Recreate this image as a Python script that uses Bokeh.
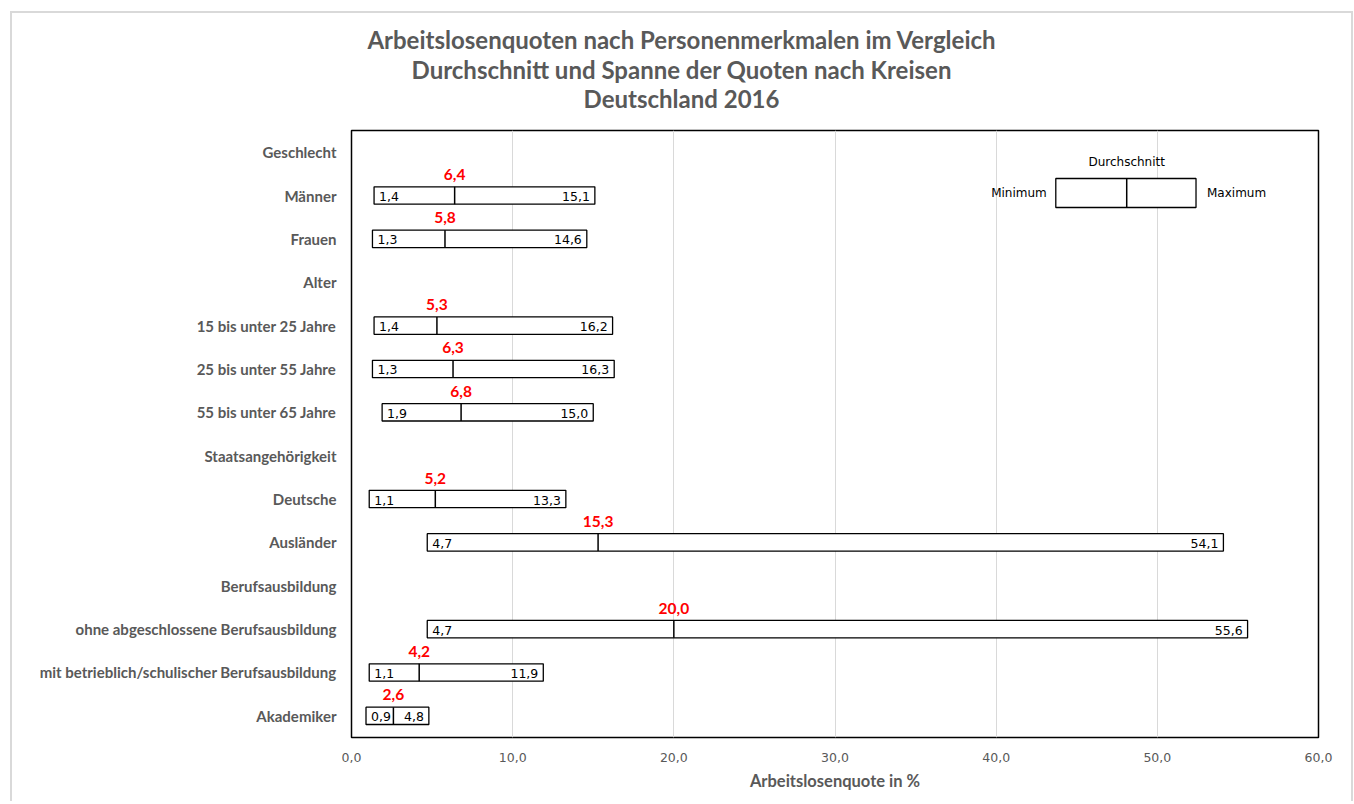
from bokeh.plotting import figure
from bokeh.models import Range1d, FixedTicker, ColumnDataSource, Div
from bokeh.layouts import column
from bokeh.core.properties import value
from bokeh.embed import file_html
from bokeh.resources import INLINE

# ---------------- data ----------------
categories = [
    "Geschlecht", "Männer", "Frauen",
    "Alter", "15 bis unter 25 Jahre", "25 bis unter 55 Jahre", "55 bis unter 65 Jahre",
    "Staatsangehörigkeit", "Deutsche", "Ausländer",
    "Berufsausbildung", "ohne abgeschlossene Berufsausbildung",
    "mit betrieblich/schulischer Berufsausbildung", "Akademiker",
]
minimum = [None, 1.4, 1.3, None, 1.4, 1.3, 1.9, None, 1.1, 4.7, None, 4.7, 1.1, 0.9]
mean = [None, 6.4, 5.8, None, 5.3, 6.3, 6.8, None, 5.2, 15.3, None, 20.0, 4.2, 2.6]
maximum = [None, 15.1, 14.6, None, 16.2, 16.3, 15.0, None, 13.3, 54.1, None, 55.6, 11.9, 4.8]

x_ticks = [0, 10, 20, 30, 40, 50, 60]
x_tick_labels = ["0,0", "10,0", "20,0", "30,0", "40,0", "50,0", "60,0"]

title_lines = [
    "Arbeitslosenquoten nach Personenmerkmalen im Vergleich",
    "Durchschnitt und Spanne der Quoten nach Kreisen",
    "Deutschland 2016",
]
x_axis_label = "Arbeitslosenquote in %"

# legend example box (schematic, in data units)
legend_min, legend_mean, legend_max = 43.7, 48.1, 52.4
legend_top, legend_bottom = 0.607, 1.276


def fmt(v):
    return f"{v:.1f}".replace(".", ",")


rows = [i for i, m in enumerate(minimum) if m is not None]
src = ColumnDataSource(dict(
    y=rows,
    lo=[minimum[i] for i in rows],
    mid=[mean[i] for i in rows],
    hi=[maximum[i] for i in rows],
    lo_t=[fmt(minimum[i]) for i in rows],
    mid_t=[fmt(mean[i]) for i in rows],
    hi_t=[fmt(maximum[i]) for i in rows],
    y0=[i - 0.2 for i in rows],
    y1=[i + 0.2 for i in rows],
))

GRAY = "#595959"
TOTAL_W = 1343

title_div = Div(
    text="<br>".join(title_lines),
    width=TOTAL_W, height=105, margin=0,
    styles={"text-align": "center", "font-family": "Lato", "font-weight": "bold",
            "font-size": "24px", "line-height": "29.5px", "color": GRAY,
            "padding-top": "14px", "box-sizing": "border-box", "width": f"{TOTAL_W}px"},
)

p = figure(
    frame_width=967, frame_height=607,
    x_range=Range1d(0, 60), y_range=Range1d(len(categories) - 0.5, -0.5),
    output_backend="svg", toolbar_location=None,
    min_border_left=341, min_border_right=35, min_border_top=14, min_border_bottom=64,
    background_fill_color="white", border_fill_color=None,
)
p.outline_line_color = "black"
p.outline_line_width = 1.5

# grid
p.xgrid.ticker = FixedTicker(ticks=x_ticks)
p.xgrid.grid_line_color = "#d9d9d9"
p.xgrid.grid_line_width = 1
p.ygrid.grid_line_color = None

# axes
p.xaxis.ticker = FixedTicker(ticks=x_ticks)
p.xaxis.major_label_overrides = {t_: l for t_, l in zip(x_ticks, x_tick_labels)}
p.xaxis.axis_line_color = None
p.xaxis.major_tick_line_color = None
p.xaxis.minor_tick_line_color = None
p.xaxis.major_label_text_font = "DejaVu Sans"
p.xaxis.major_label_text_font_size = "12.5px"
p.xaxis.major_label_text_color = GRAY
p.xaxis.major_label_standoff = 9
p.xaxis.axis_label = x_axis_label
p.xaxis.axis_label_text_font = "Lato"
p.xaxis.axis_label_text_font_size = "16.5px"
p.xaxis.axis_label_text_font_style = "bold"
p.xaxis.axis_label_text_color = GRAY
p.xaxis.axis_label_standoff = 6

p.yaxis.ticker = FixedTicker(ticks=list(range(len(categories))))
p.yaxis.major_label_overrides = {i: c for i, c in enumerate(categories)}
p.yaxis.axis_line_color = None
p.yaxis.major_tick_line_color = None
p.yaxis.minor_tick_line_color = None
p.yaxis.major_label_text_font = "Lato"
p.yaxis.major_label_text_font_size = "15px"
p.yaxis.major_label_text_font_style = "bold"
p.yaxis.major_label_text_color = GRAY
p.yaxis.major_label_standoff = 9

# bars
p.hbar(y="y", left="lo", right="hi", height=0.4, source=src,
       fill_color="white", line_color="black", line_width=1.3)
p.segment(x0="mid", y0="y0", x1="mid", y1="y1", source=src,
          line_color="black", line_width=1.5)

p.text(x="lo", y="y", text="lo_t", source=src, x_offset=5, y_offset=1,
       text_align="left", text_baseline="middle",
       text_font=value("DejaVu Sans"), text_font_size="12.5px", text_color="black")
p.text(x="hi", y="y", text="hi_t", source=src, x_offset=-5, y_offset=1,
       text_align="right", text_baseline="middle",
       text_font=value("DejaVu Sans"), text_font_size="12.5px", text_color="black")
p.text(x="mid", y="y", text="mid_t", source=src, y_offset=-21,
       text_align="center", text_baseline="middle",
       text_font=value("Lato"), text_font_size="15.5px", text_font_style="bold",
       text_color="#ff0000")

# legend schematic
legend_mid_y = (legend_top + legend_bottom) / 2
p.quad(left=[legend_min], right=[legend_max], top=[legend_top], bottom=[legend_bottom],
       fill_color="white", line_color="black", line_width=1.3)
p.segment(x0=[legend_mean], y0=[legend_top], x1=[legend_mean], y1=[legend_bottom],
          line_color="black", line_width=1.5)
p.text(x=[legend_mean], y=[legend_top], y_offset=-16, text=["Durchschnitt"],
       text_align="center", text_baseline="middle", text_font=value("DejaVu Sans"),
       text_font_size="12px", text_color="black")
p.text(x=[legend_min], y=[legend_mid_y], text=["Minimum"], x_offset=-9, text_align="right",
       text_baseline="middle", text_font=value("DejaVu Sans"),
       text_font_size="12px", text_color="black")
p.text(x=[legend_max], y=[legend_mid_y], text=["Maximum"], x_offset=11, text_align="left",
       text_baseline="middle", text_font=value("DejaVu Sans"),
       text_font_size="12px", text_color="black")

layout = column(title_div, p, spacing=0)
layout.styles = {"margin-left": "10px", "margin-top": "11px",
                 "box-shadow": "inset 2px 2px 0 #d9d9d9, inset -2px 0 0 #d9d9d9",
                 "background": "white"}

open("out.html", "w").write(file_html(layout, INLINE))
